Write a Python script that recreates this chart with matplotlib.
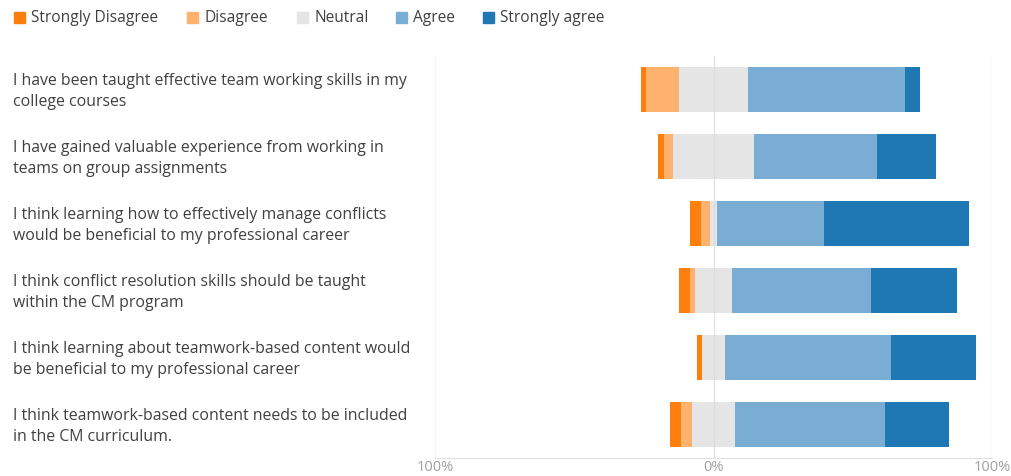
import matplotlib
matplotlib.use("Agg")
import matplotlib.pyplot as plt
from matplotlib.patches import Rectangle
import numpy as np

categories = [
    "I have been taught effective team working skills in my\ncollege courses",
    "I have gained valuable experience from working in\nteams on group assignments",
    "I think learning how to effectively manage conflicts\nwould be beneficial to my professional career",
    "I think conflict resolution skills should be taught\nwithin the CM program",
    "I think learning about teamwork-based content would\nbe beneficial to my professional career",
    "I think teamwork-based content needs to be included\nin the CM curriculum.",
]
levels = ["Strongly Disagree", "Disagree", "Neutral", "Agree", "Strongly agree"]
strongly_disagree = [1.8, 2.2, 3.8, 3.8, 1.6, 3.8]
disagree = [11.7, 3.2, 3.5, 2.0, 0.0, 4.2]
neutral = [25.1, 29.4, 2.2, 13.2, 8.3, 15.1]
agree = [56.2, 44.0, 38.7, 50.0, 59.6, 54.1]
strongly_agree = [5.3, 21.2, 51.9, 30.9, 30.5, 23.0]
tick_labels = ["100%", "0%", "100%"]

colors = ["#ff7f0e", "#ffb26e", "#e5e5e5", "#7aadd3", "#1f77b4"]
text_color = "#404040"
font = "Open Sans"

W, H = 1011, 477
fig = plt.figure(figsize=(W / 100, H / 100), dpi=100)
ax = fig.add_axes([435 / W, 1 - 459 / H, (992 - 435) / W, (459 - 57) / H])

series = [strongly_disagree, disagree, neutral, agree, strongly_agree]
sd = np.array(strongly_disagree)
d = np.array(disagree)
n = np.array(neutral)
start = -(sd + d + n / 2)
y = np.arange(len(categories))
left = start.copy()
for vals, c in zip(series, colors):
    v = np.array(vals)
    ax.barh(y, v, left=left, height=0.67, color=c, edgecolor="none", zorder=2)
    left = left + v

ax.set_xlim(-100, 100)
ax.set_ylim(len(categories) - 0.5, -0.5)
ax.axvline(0, color="#d8d8d8", lw=1, zorder=3, alpha=0.7)
ax.axvline(100, color="#e6e6e6", lw=1, zorder=1)
ax.axvline(-100, color="#f3f3f3", lw=1, zorder=1)
for s in ["top", "right", "left"]:
    ax.spines[s].set_visible(False)
ax.spines["bottom"].set_color("#e0e0e0")
ax.set_yticks([])
ax.set_xticks([-100, 0, 100])
ax.set_xticklabels(tick_labels, fontfamily=font, fontsize=10.5, color="#a0a0a0")
ax.tick_params(axis="x", length=0, pad=0.5)

# category labels
for i, cat in enumerate(categories):
    yd = ax.transData.transform((0, i))[1]
    fig.text(13 / W, (yd - 1) / H, cat, ha="left", va="center", fontsize=11.4,
             fontfamily=font, color=text_color, linespacing=1.45)

# legend
leg_sq = [14, 187, 297, 396, 483]
leg_y = 18
for xs, lab, c in zip(leg_sq, levels, colors):
    fig.patches.append(Rectangle((xs / W, 1 - (leg_y + 5.5) / H), 11 / W, 11 / H,
                                 transform=fig.transFigure, color=c, figure=fig))
    fig.text((xs + 17) / W, 1 - leg_y / H, lab, ha="left", va="center",
             fontsize=11.2, fontfamily=font, color=text_color)

fig.savefig("out.png", dpi=100)
